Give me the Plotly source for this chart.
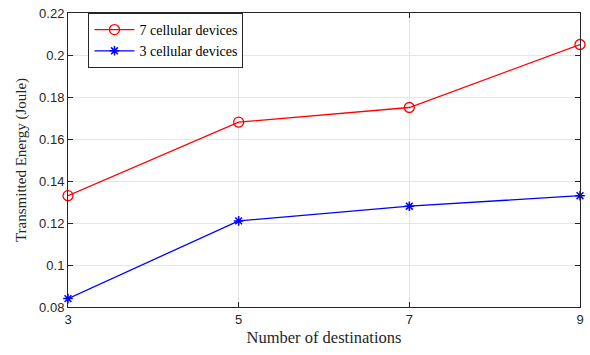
import plotly.graph_objects as go

destinations = [3, 5, 7, 9]
energy_7 = [0.133, 0.168, 0.175, 0.205]
energy_3 = [0.084, 0.121, 0.128, 0.133]
x_ticks = [3, 5, 7, 9]
y_ticks = [0.08, 0.1, 0.12, 0.14, 0.16, 0.18, 0.2, 0.22]
y_tick_text = ["0.08", "0.1", "0.12", "0.14", "0.16", "0.18", "0.2", "0.22"]

fig = go.Figure()
fig.add_trace(go.Scatter(
    x=destinations, y=energy_7, name="7 cellular devices", mode="lines+markers",
    line=dict(color="#ff0000", width=1.3),
    marker=dict(symbol="circle-open", size=10, color="#ff0000", line=dict(width=1.3)),
    cliponaxis=False,
))
fig.add_trace(go.Scatter(
    x=destinations, y=energy_3, name="3 cellular devices", mode="lines+markers",
    line=dict(color="#0000ff", width=1.3),
    marker=dict(symbol="asterisk-open", size=8, color="#0000ff", line=dict(width=1.5, color="#0000ff")),
    cliponaxis=False,
))

axis_common = dict(
    showline=True, linecolor="#262626", linewidth=1, mirror="ticks",
    ticks="inside", ticklen=5, tickcolor="#262626",
    showgrid=True, gridcolor="#e6e6e6", gridwidth=1, zeroline=False,
    ticklabeloverflow="allow",
    tickfont=dict(family="Liberation Sans, Arial", size=13, color="#262626"),
)

fig.update_layout(
    width=590, height=355,
    margin=dict(l=68, r=10, t=6, b=48),
    paper_bgcolor="white", plot_bgcolor="white",
    showlegend=True,
    legend=dict(
        x=0.04, y=1.0, xanchor="left", yanchor="top",
        bgcolor="white", bordercolor="#262626", borderwidth=1,
        font=dict(family="Liberation Serif, Times New Roman", size=14, color="#000000"),
        tracegroupgap=0, itemwidth=40,
    ),
    xaxis=dict(
        range=[3, 9], tickvals=x_ticks, ticktext=[str(v) for v in x_ticks],
        title=dict(text="Number of destinations", standoff=5,
                   font=dict(family="Liberation Serif, Times New Roman", size=16.5, color="#262626")),
        **axis_common,
    ),
    yaxis=dict(
        range=[0.08, 0.22], tickvals=y_ticks, ticktext=y_tick_text,
        title=dict(text="Transmitted Energy (Joule)", standoff=8,
                   font=dict(family="Liberation Serif, Times New Roman", size=15, color="#262626")),
        **axis_common,
    ),
)

fig.write_html("out.html", config={"displayModeBar": False},
               post_script="document.body.style.margin='0';")
